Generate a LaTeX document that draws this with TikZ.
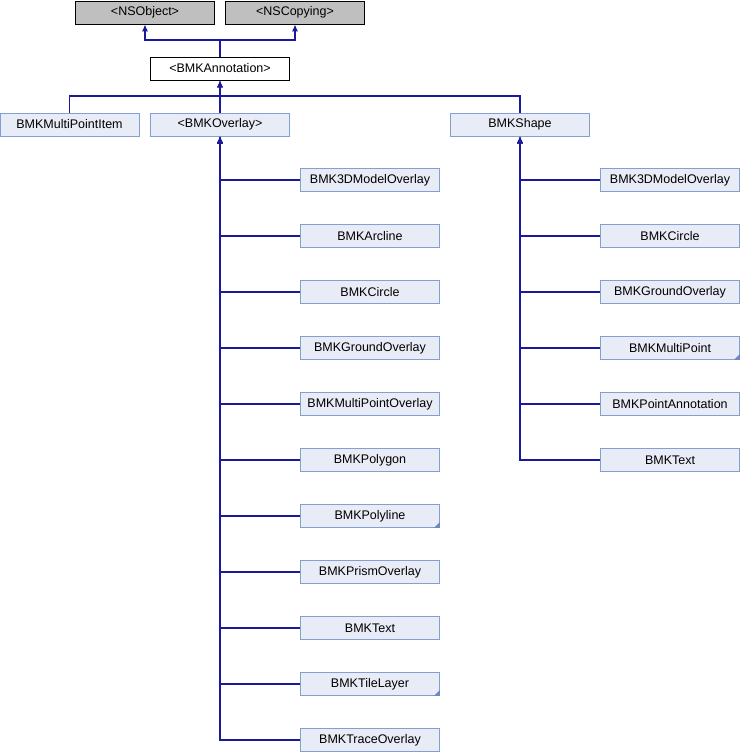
\documentclass[tikz,border=0pt]{standalone}
\usepackage{fontspec}
\setmainfont{Liberation Sans}
\usepackage{tikz}
\usetikzlibrary{arrows.meta, positioning, calc}
\usepackage{xcolor}
\definecolor{edgeblue}{HTML}{1A1A9A}
\definecolor{boxfill}{HTML}{E8ECF6}
\definecolor{boxline}{HTML}{84A0D2}
\definecolor{cornerblue}{HTML}{7088C0}
\definecolor{protofill}{HTML}{BFBFBF}

\tikzset{
  cls/.style={draw=boxline, fill=boxfill, line width=0.9pt, minimum width=139pt, minimum height=23pt,
    inner sep=0pt, font=\fontsize{12.5}{14}\selectfont},
  proto/.style={cls, draw=black, fill=protofill},
  root/.style={cls, draw=black, fill=white},
  inh/.style={draw=edgeblue, line width=1.1pt, -{Latex[length=7pt, width=6pt]}}
}

\begin{document}
\begin{tikzpicture}[x=1pt, y=-1pt]
  \useasboundingbox (0,0) rectangle (740,752);

  % protocols at the top
  \node[proto] (nsobj) at (145, 12.5) {<NSObject>};
  \node[proto] (nscopy) at (295, 12.5) {<NSCopying>};
  \node[root] (annot) at (220, 68.5) {<BMKAnnotation>};

  \coordinate (jtop) at (220, 40);
  \draw[inh] (annot.north) -- (jtop) -| (nsobj.south);
  \draw[inh] (annot.north) -- (jtop) -| (nscopy.south);

  % second level
  \node[cls] (mpitem) at (69.5, 124.5) {BMKMultiPointItem};
  \node[cls] (overlay) at (220, 124.5) {<BMKOverlay>};
  \node[cls] (shape) at (520, 124.5) {BMKShape};

  \coordinate (jmid) at (220, 96);
  \draw[inh] (mpitem.north) |- (jmid) -- (annot.south);
  \draw[inh] (overlay.north) -- (annot.south);
  \draw[inh] (shape.north) |- (jmid) -- (annot.south);

  % overlay subclasses
  \foreach \name [count=\i from 0] in {BMK3DModelOverlay, BMKArcline, BMKCircle, BMKGroundOverlay,
      BMKMultiPointOverlay, BMKPolygon, BMKPolyline, BMKPrismOverlay, BMKText, BMKTileLayer, BMKTraceOverlay} {
    \node[cls] (ov\i) at (370, 180 + 56*\i) {\name};
    \draw[inh] (ov\i.west) -| (overlay.south);
  }
  \fill[cornerblue] (ov6.south east) -- ++(-6,0) -- ++(6,-6) -- cycle;
  \fill[cornerblue] (ov9.south east) -- ++(-6,0) -- ++(6,-6) -- cycle;

  % shape subclasses
  \foreach \name [count=\i from 0] in {BMK3DModelOverlay, BMKCircle, BMKGroundOverlay,
      BMKMultiPoint, BMKPointAnnotation, BMKText} {
    \node[cls] (sh\i) at (670, 180 + 56*\i) {\name};
    \draw[inh] (sh\i.west) -| (shape.south);
  }
  \fill[cornerblue] (sh3.south east) -- ++(-6,0) -- ++(6,-6) -- cycle;
\end{tikzpicture}
\end{document}
